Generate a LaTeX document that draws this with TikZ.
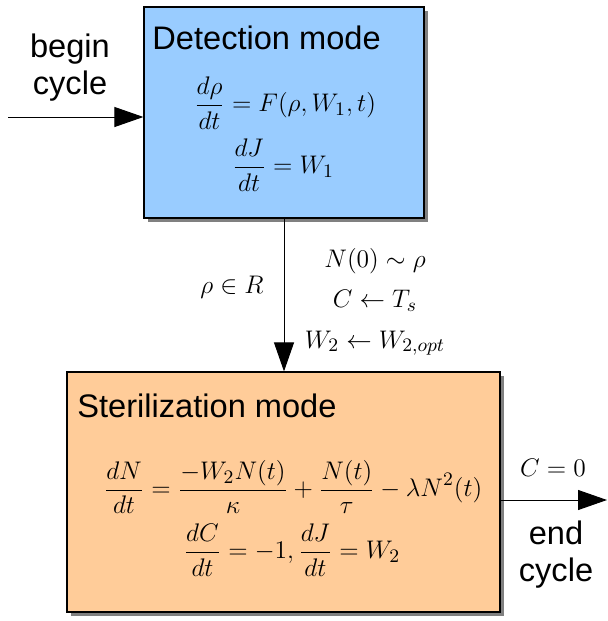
\documentclass[tikz,border=0pt]{standalone}
\usepackage{fontspec}
\setmainfont{Liberation Sans}
\usepackage{tikz}
\usetikzlibrary{calc,shapes,shadows,arrows.meta}

\definecolor{detblue}{HTML}{99CCFF}
\definecolor{sterorange}{HTML}{FFCC99}

\begin{document}
\begin{tikzpicture}[x=0.5pt, y=-0.5pt,
    modebox/.style={rectangle, draw, line width=0.6pt, inner sep=0pt,
        drop shadow={shadow xshift=2.2pt, shadow yshift=-2.2pt, fill=gray, opacity=1}},
    lbl/.style={font=\fontsize{16.3}{18.5}\selectfont, align=center},
    eq/.style={font=\fontsize{13}{16}\selectfont, inner sep=0pt, scale=1.06, transform shape},
    flow/.style={draw, line width=0.5pt, -{Triangle[length=14.5pt, width=10pt]}}]
    \useasboundingbox (0,0) rectangle (608,621);
    % Place nodes
    \node [modebox, fill=detblue, minimum width=140pt, minimum height=105.5pt] (det) at (284,112.5) {};
    \node [modebox, fill=sterorange, minimum width=216.5pt, minimum height=120pt] (ster) at (283.5,492) {};
    \node [lbl, anchor=west, inner sep=0pt] (dett) at (152,38) {Detection mode};
    \node [lbl, anchor=west, inner sep=0pt] (stert) at (77,406) {Sterilization mode};
    \node [eq] (eqa) at (285,103) {$\displaystyle \frac{d\rho}{dt}=F(\rho,W_1,t)$};
    \node [eq] (eqb) at (283,165) {$\displaystyle \frac{dJ}{dt}=W_1$};
    \node [eq] (eqc) at (293,487) {$\displaystyle \frac{dN}{dt}=\frac{-W_2N(t)}{\kappa}+\frac{N(t)}{\tau}-\lambda N^2(t)$};
    \node [eq] (eqd) at (292,550) {$\displaystyle \frac{dC}{dt}=-1,\frac{dJ}{dt}=W_2$};
    \node [lbl] (begin) at (70,68) {begin\\cycle};
    \node [lbl] (end) at (556,555) {end\\cycle};
    \node [eq] (cond) at (232,287) {$\rho\in R$};
    \node [eq, align=center] (reset) at (375,302) {$N(0)\sim\rho$\\[3pt]$C\leftarrow T_s$\\[3pt]$W_2\leftarrow W_{2,opt}$};
    \node [eq] (stop) at (553,468) {$C=0$};
    \coordinate (in) at (8,117);
    \coordinate (out) at (607,500);
    % Connectors
    \path [flow] (in) -- (in -| det.west);
    \path [flow] (det.south) -- (det.south |- ster.north);
    \path [flow] (out -| ster.east) -- (out);
\end{tikzpicture}
\end{document}
